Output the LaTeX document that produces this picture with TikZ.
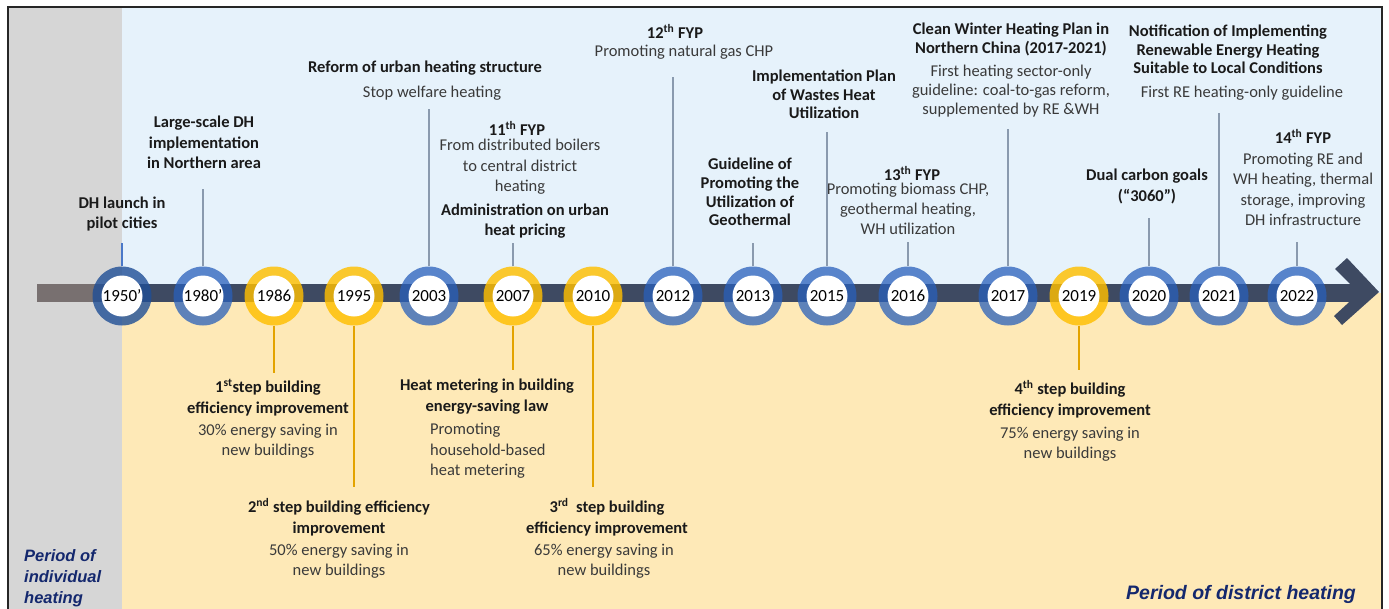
\documentclass[tikz,border=0pt]{standalone}
\usepackage{fontspec}
\setmainfont{Carlito}
\newfontfamily\periodfont{Liberation Sans}
\usetikzlibrary{positioning}
\definecolor{indivgray}{HTML}{D6D6D6}
\definecolor{skyband}{HTML}{E6F2FB}
\definecolor{sandband}{HTML}{FEE9B7}
\definecolor{barnavy}{HTML}{3E4A62}
\definecolor{bargray}{HTML}{787070}
\definecolor{ringblue}{RGB}{41,96,187}
\definecolor{ringdark}{HTML}{1F4E96}
\definecolor{ringgold}{HTML}{FFBF00}
\definecolor{stemgray}{HTML}{8A9AAE}
\definecolor{stemblue}{HTML}{4A78C8}
\definecolor{stemgold}{HTML}{E3A300}
\definecolor{ink}{HTML}{1A1A1A}
\definecolor{softink}{HTML}{3A3A3A}
\definecolor{periodblue}{HTML}{14286E}
\newcommand{\lblsize}{\fontsize{16.5}{20}\selectfont}

\begin{document}
\begin{tikzpicture}[x=1pt, y=-1pt,
	yr/.style={circle, minimum size=59pt, inner sep=0pt, text opacity=1, text=black,
		font=\fontsize{17}{17}\selectfont,
		path picture={\fill[white, fill opacity=1] (path picture bounding box.center) circle (20.5pt);}},
	blueyr/.style={yr, fill=ringblue, fill opacity=0.75},
	goldyr/.style={yr, fill=ringgold, fill opacity=0.82},
	ttl/.style={anchor=north, align=center, inner sep=0pt, text=ink, font=\lblsize\bfseries},
	dsc/.style={anchor=north, align=center, inner sep=0pt, text=softink, font=\lblsize},
	riser/.style={draw=stemgray, line width=1.4pt, shorten >=#1},
	riser/.default=8pt,
	dropper/.style={draw=stemgold, line width=1.4pt, shorten >=#1},
	dropper/.default=8pt,
	periodtxt/.style={align=left, inner sep=0pt, text=periodblue, font=\periodfont\bfseries\itshape}]
	\useasboundingbox (0,0) rectangle (1389,608);
	\fill[indivgray] (8,7) rectangle (122,615);
	\fill[skyband] (122,7) rectangle (1382,293);
	\fill[sandband] (122,293) rectangle (1382,615);
	\draw[line width=1.3pt, black!85] (8,7) rectangle (1382,615);
	\fill[bargray] (37,284) rectangle (122,302);
	\fill[barnavy] (122,284) rectangle (1359,302);
	\fill[barnavy] (1347,258) -- (1379,292) -- (1342,325) -- (1334,316) -- (1359,293) -- (1335,269) -- cycle;

	\node[blueyr, fill=ringdark, fill opacity=0.8] (c1950) at (122,296) {1950’};
	\node[blueyr] (c1980) at (203,296) {1980’};
	\node[goldyr] (c1986) at (274,296) {1986};
	\node[goldyr] (c1995) at (354,296) {1995};
	\node[blueyr] (c2003) at (429,296) {2003};
	\node[goldyr] (c2007) at (513,296) {2007};
	\node[goldyr] (c2010) at (593,296) {2010};
	\node[blueyr] (c2012) at (673,296) {2012};
	\node[blueyr] (c2013) at (753,296) {2013};
	\node[blueyr] (c2015) at (827,296) {2015};
	\node[blueyr] (c2016) at (908,296) {2016};
	\node[blueyr] (c2017) at (1008,296) {2017};
	\node[goldyr] (c2019) at (1079,296) {2019};
	\node[blueyr] (c2020) at (1149,296) {2020};
	\node[blueyr] (c2021) at (1219,296) {2021};
	\node[blueyr] (c2022) at (1297,296) {2022};

	\node[ttl] (t1950) at (122,197) {DH launch in\\pilot cities};
	\node[ttl, font=\fontsize{16.5}{20.5}\selectfont\bfseries] (t1980) at (204,116) {Large-scale DH\\implementation\\in Northern area};
	\node[ttl] (t2003) at (425,61) {Reform of urban heating structure};
	\node[dsc] (d2003) at (432,86) {Stop welfare heating};
	\node[ttl] (t2007) at (517,121) {11\textsuperscript{th} FYP};
	\node[dsc, font=\fontsize{16.5}{20.5}\selectfont] (d2007) at (520,139) {From distributed boilers\\to central district\\heating};
	\node[ttl] (a2007) at (525,204) {Administration on urban\\heat pricing};
	\node[ttl] (t2012) at (675,24) {12\textsuperscript{th} FYP};
	\node[dsc] (d2012) at (684,45) {Promoting natural gas CHP};
	\node[ttl, font=\fontsize{16.5}{18.7}\selectfont\bfseries] (t2013) at (750,158) {Guideline of\\Promoting the\\Utilization of\\Geothermal};
	\node[ttl, font=\fontsize{16.5}{18.5}\selectfont\bfseries] (t2015) at (824,70) {Implementation Plan\\of Wastes Heat\\Utilization};
	\node[ttl] (t2016) at (912,166) {13\textsuperscript{th} FYP};
	\node[dsc] (d2016) at (908,183) {Promoting biomass CHP,\\geothermal heating,\\WH utilization};
	\node[ttl, font=\fontsize{16.5}{19}\selectfont\bfseries] (t2017) at (1011,23) {Clean Winter Heating Plan in\\Northern China (2017-2021)};
	\node[dsc, font=\fontsize{16.5}{19}\selectfont] (d2017) at (1011,65) {First heating sector-only\\guideline: coal-to-gas reform,\\supplemented by RE \&WH};
	\node[ttl, font=\fontsize{16.5}{21}\selectfont\bfseries] (t2020) at (1147,169) {Dual carbon goals\\(“3060”)};
	\node[ttl, font=\fontsize{16.5}{18.5}\selectfont\bfseries] (t2021) at (1228,25) {Notification of Implementing\\Renewable Energy Heating\\Suitable to Local Conditions};
	\node[dsc] (d2021) at (1242,86) {First RE heating-only guideline};
	\node[ttl] (t2022) at (1303,129) {14\textsuperscript{th} FYP};
	\node[dsc, font=\fontsize{16.5}{20.3}\selectfont] (d2022) at (1303,153) {Promoting RE and\\WH heating, thermal\\storage, improving\\DH infrastructure};

	\node[ttl, font=\fontsize{16.5}{21}\selectfont\bfseries] (s1986) at (268,379) {1\textsuperscript{st}step building\\efficiency improvement};
	\node[dsc] (e1986) at (268,424) {30\% energy saving in\\new buildings};
	\node[ttl, font=\fontsize{16.5}{21}\selectfont\bfseries] (s1995) at (339,498) {2\textsuperscript{nd} step building efficiency\\improvement};
	\node[dsc] (e1995) at (339,544) {50\% energy saving in\\new buildings};
	\node[ttl, font=\fontsize{16.5}{21}\selectfont\bfseries] (m2007) at (487,379) {Heat metering in building\\energy-saving law};
	\node[dsc, anchor=north west, align=left, font=\fontsize{16.5}{20.5}\selectfont] (h2007) at (430,423) {Promoting\\household-based\\heat metering};
	\node[ttl, font=\fontsize{16.5}{21}\selectfont\bfseries] (s2010) at (607,498) {3\textsuperscript{rd}~ step building\\efficiency improvement};
	\node[dsc] (e2010) at (604,544) {65\% energy saving in\\new buildings};
	\node[ttl, font=\fontsize{16.5}{21}\selectfont\bfseries] (s2019) at (1070,380) {4\textsuperscript{th} step building\\efficiency improvement};
	\node[dsc] (e2019) at (1070,427) {75\% energy saving in\\new buildings};

	\node[periodtxt, anchor=north west, font=\periodfont\bfseries\itshape\fontsize{16.5}{21}\selectfont] (pind) at (24,549) {Period of\\individual\\heating};
	\node[periodtxt, anchor=north west, font=\periodfont\bfseries\itshape\fontsize{19.5}{21}\selectfont] (pdis) at (1126,585) {Period of district heating};

	\draw[riser=11.5pt, draw=stemblue] (c1950.north) -- (c1950.north |- t1950.south);
	\draw[riser=20pt] (c1980.north) -- (c1980.north |- t1980.south);
	\draw[riser=8.5pt] (c2003.north) -- (c2003.north |- d2003.south);
	\draw[riser=4pt] (c2007.north) -- (c2007.north |- a2007.south);
	\draw[riser=17.5pt] (c2012.north) -- (c2012.north |- d2012.south);
	\draw[riser=17pt] (c2013.north) -- (c2013.north |- t2013.south);
	\draw[riser=13pt] (c2015.north) -- (c2015.north |- t2015.south);
	\draw[riser=7pt] (c2016.north) -- (c2016.north |- d2016.south);
	\draw[riser=11.5pt] (c2017.north) -- (c2017.north |- d2017.south);
	\draw[riser=14pt] (c2020.north) -- (c2020.north |- t2020.south);
	\draw[riser=12.5pt] (c2021.north) -- (c2021.north |- d2021.south);
	\draw[riser=16pt] (c2022.north) -- (c2022.north |- d2022.south);
	\draw[dropper=6pt] (c1986.south) -- (c1986.south |- s1986.north);
	\draw[dropper=11pt] (c1995.south) -- (c1995.south |- s1995.north);
	\draw[dropper=9pt] (c2007.south) -- (c2007.south |- m2007.north);
	\draw[dropper=11pt] (c2010.south) -- (c2010.south |- s2010.north);
	\draw[dropper=10pt] (c2019.south) -- (c2019.south |- s2019.north);
\end{tikzpicture}
\end{document}
